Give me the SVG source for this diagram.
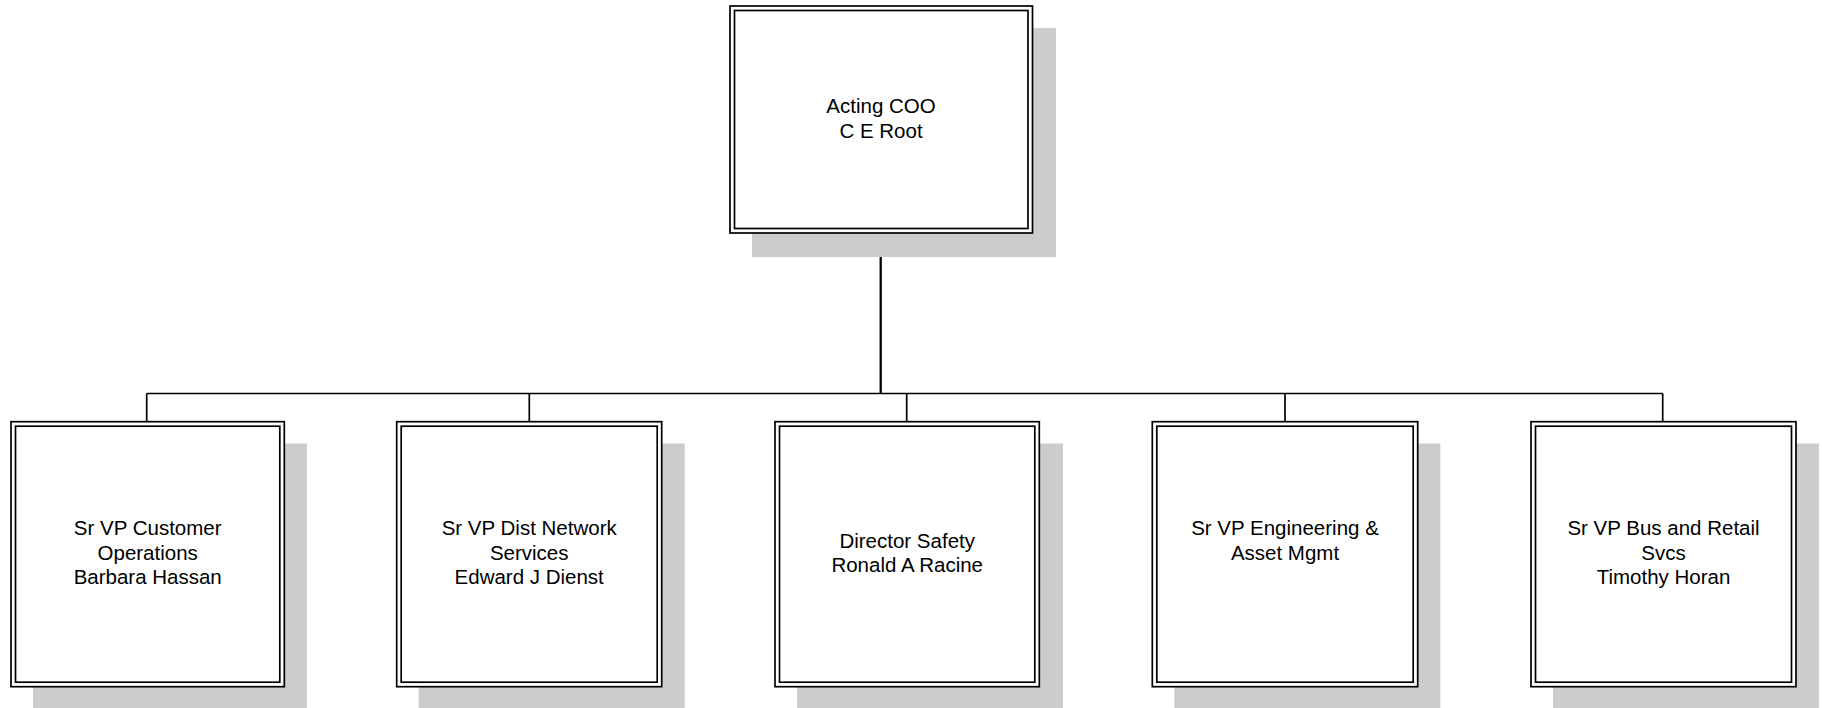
<svg xmlns="http://www.w3.org/2000/svg" width="1822" height="708" viewBox="0 0 1822 708">
<style>
.shadow{fill:#cccccc;stroke:none}
.outer{fill:#ffffff;stroke:#000000;stroke-width:1.7}
.inner{fill:none;stroke:#000000;stroke-width:1.7}
.lbl{font-family:"Liberation Sans",Arial,sans-serif;font-size:20.5px;fill:#000000;text-anchor:middle}
.conn{fill:none;stroke:#000000;stroke-width:1.7}
</style>
<rect width="1822" height="708" fill="#ffffff"/>
<g id="connectors">
<line class="conn" x1="880.7" y1="233" x2="880.7" y2="393.5" style="stroke-width:2.3"/>
<line class="conn" x1="146.7" y1="393.5" x2="1662.7" y2="393.5"/>
<line class="conn" x1="146.7" y1="393.5" x2="146.7" y2="421.7"/>
<line class="conn" x1="529.3" y1="393.5" x2="529.3" y2="421.7"/>
<line class="conn" x1="906.7" y1="393.5" x2="906.7" y2="421.7"/>
<line class="conn" x1="1285" y1="393.5" x2="1285" y2="421.7"/>
<line class="conn" x1="1662.7" y1="393.5" x2="1662.7" y2="421.7"/>
</g>
<g id="node-coo">
<rect class="shadow" x="752" y="28" width="304" height="229"/>
<rect class="outer" x="730" y="6" width="302.5" height="227"/>
<rect class="inner" x="734.5" y="10.5" width="293.5" height="218"/>
<text class="lbl" x="881" y="112.5">Acting COO</text>
<text class="lbl" x="881" y="137.5">C E Root</text>
</g>
<g id="node-customer-ops">
<rect class="shadow" x="33" y="443.5" width="274" height="266"/>
<rect class="outer" x="11" y="421.7" width="273.3" height="265"/>
<rect class="inner" x="15.5" y="426.2" width="264.3" height="256"/>
<text class="lbl" x="147.7" y="535">Sr VP Customer</text>
<text class="lbl" x="147.7" y="559.5">Operations</text>
<text class="lbl" x="147.7" y="584">Barbara Hassan</text>
</g>
<g id="node-dist-network">
<rect class="shadow" x="418.7" y="443.5" width="266" height="266"/>
<rect class="outer" x="396.7" y="421.7" width="265" height="265"/>
<rect class="inner" x="401.2" y="426.2" width="256" height="256"/>
<text class="lbl" x="529.2" y="535">Sr VP Dist Network</text>
<text class="lbl" x="529.2" y="559.5">Services</text>
<text class="lbl" x="529.2" y="584">Edward J Dienst</text>
</g>
<g id="node-safety">
<rect class="shadow" x="797" y="443.5" width="266" height="266"/>
<rect class="outer" x="775" y="421.7" width="264.3" height="265"/>
<rect class="inner" x="779.5" y="426.2" width="255.3" height="256"/>
<text class="lbl" x="907.2" y="547.5">Director Safety</text>
<text class="lbl" x="907.2" y="572">Ronald A Racine</text>
</g>
<g id="node-engineering">
<rect class="shadow" x="1174.3" y="443.5" width="266" height="266"/>
<rect class="outer" x="1152.3" y="421.7" width="265.4" height="265"/>
<rect class="inner" x="1156.8" y="426.2" width="256.4" height="256"/>
<text class="lbl" x="1285" y="535">Sr VP Engineering &amp;</text>
<text class="lbl" x="1285" y="559.5">Asset Mgmt</text>
</g>
<g id="node-bus-retail">
<rect class="shadow" x="1553" y="443.5" width="266" height="266"/>
<rect class="outer" x="1531" y="421.7" width="265" height="265"/>
<rect class="inner" x="1535.5" y="426.2" width="256" height="256"/>
<text class="lbl" x="1663.5" y="535">Sr VP Bus and Retail</text>
<text class="lbl" x="1663.5" y="559.5">Svcs</text>
<text class="lbl" x="1663.5" y="584">Timothy Horan</text>
</g>
</svg>
